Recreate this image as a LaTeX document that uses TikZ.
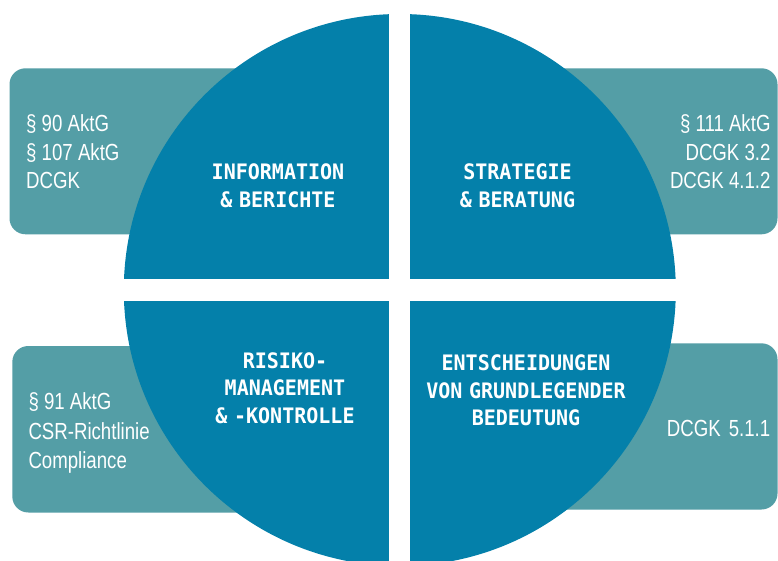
\documentclass[tikz,border=0pt]{standalone}
\usepackage{fontspec}
\setmainfont{Liberation Sans}
\newfontfamily\boxfont{Liberation Sans}[FakeStretch=0.8]
\newfontfamily\quadfont{DejaVu Sans Mono}[FakeStretch=0.94, WordSpace=0.55]
\definecolor{circblue}{RGB}{4,128,170}
\definecolor{boxteal}{RGB}{84,158,166}
\begin{document}
\begin{tikzpicture}[x=1pt,y=-1pt,
  tealbox/.style={fill=boxteal, rounded corners=16pt},
  quadrant/.style={fill=circblue},
  boxtext/.style={text=white, inner sep=0pt, font={\boxfont\fontsize{23.3}{28.3}\selectfont}},
  qtext/.style={text=white, inner sep=0pt, align=center, font={\quadfont\bfseries\fontsize{21.3}{28.3}\selectfont}}]
\fill[white] (0,0) rectangle (778,561);
\useasboundingbox (0,0) rectangle (778,561);
% side boxes
\fill[tealbox] (9.5,68.3) rectangle (330,234.3);
\fill[tealbox] (470,68.3) rectangle (777.5,234.3);
\fill[tealbox] (12.3,346) rectangle (330,512.5);
\fill[tealbox] (470,343.3) rectangle (777.5,509.5);
% circle quadrants
\begin{scope}
\clip (399.8,290) circle[radius=276];
\fill[quadrant] (0,0) rectangle (389.3,279.3);
\fill[quadrant] (410.3,0) rectangle (778,279.3);
\fill[quadrant] (0,300.7) rectangle (389.3,570);
\fill[quadrant] (410.3,300.7) rectangle (778,570);
\end{scope}
% box texts
\node[boxtext, anchor=west, align=left] (tl) at (26,151.7) {§ 90 AktG\\§ 107 AktG\\DCGK};
\node[boxtext, anchor=east, align=right] (tr) at (770.7,151.7) {§ 111 AktG\\DCGK 3.2\\DCGK 4.1.2};
\node[boxtext, anchor=west, align=left, font={\boxfont\fontsize{23.3}{29.2}\selectfont}] (bl) at (28.3,433) {§ 91 AktG\\CSR-Richtlinie\\Compliance};
\node[boxtext, anchor=base west] (br) at (666.7,436) {DCGK\hspace{8pt}5.1.1};
% quadrant texts
\node[qtext] (q1) at (278,185.5) {INFORMATION\\\& BERICHTE};
\node[qtext] (q2) at (517.5,185.5) {STRATEGIE\\\& BERATUNG};
\node[qtext, font={\quadfont\bfseries\fontsize{21.3}{27.3}\selectfont}] (q3) at (285,388) {RISIKO-\\MANAGEMENT\\\& -KONTROLLE};
\node[qtext, font={\quadfont\bfseries\fontsize{21.3}{27.6}\selectfont}] (q4) at (526,390.3) {ENTSCHEIDUNGEN\\VON GRUNDLEGENDER\\BEDEUTUNG};
\end{tikzpicture}
\end{document}
